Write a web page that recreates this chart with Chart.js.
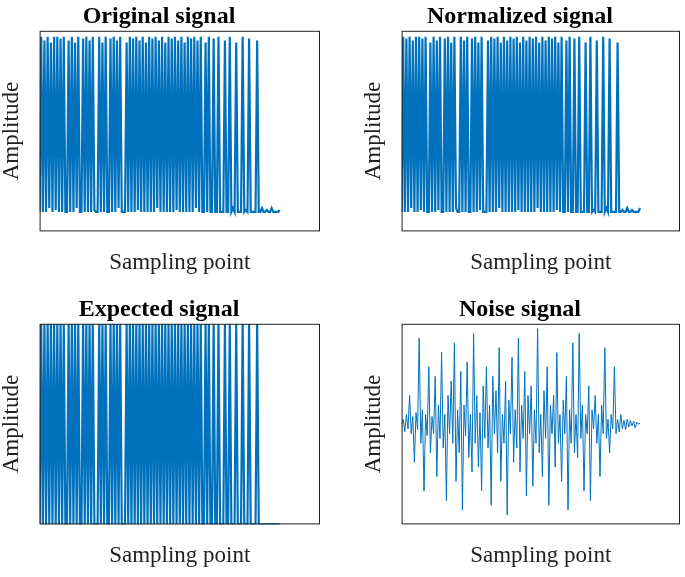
<!DOCTYPE html>
<html><head><meta charset="utf-8">
<script src="https://cdn.jsdelivr.net/npm/chart.js@4"></script>
<style>
body{margin:0;background:#fff;width:685px;height:577px;position:relative;overflow:hidden}
canvas{position:absolute}
</style></head><body>
<canvas id="c1" width="334" height="277" style="left:-6px;top:0"></canvas>
<canvas id="c2" width="334" height="277" style="left:356px;top:0"></canvas>
<canvas id="c3" width="334" height="277" style="left:-6px;top:293px"></canvas>
<canvas id="c4" width="334" height="277" style="left:356px;top:293px"></canvas>
<script>
const titles = ["Original signal","Normalized signal","Expected signal","Noise signal"];
const xLabel = "Sampling point";
const yLabel = "Amplitude";
const originalSignal = [0.1,1,0.1,0.98,0.1,1,0.12,0.97,0.1,1, 0.11,1,0.1,0.99,0.1,1,0.1,0.1,0.98,0.1, 1,0.1,0.97,0.12,1,0.1,0.1,0.99,0.1,1, 0.1,0.98,0.1,1,0.11,0.1,0.1,1,0.1,0.97, 0.1,1,0.1,0.1,0.99,0.1,1,0.1,0.98,0.12, 1,0.1,0.1,0.1,0.97,0.1,1,0.1,0.99,0.1, 1,0.11,0.98,0.1,1,0.1,0.97,0.1,1,0.1, 0.99,0.1,1,0.12,0.98,0.1,1,0.1,0.97,0.1, 1,0.1,0.99,0.1,1,0.11,0.98,0.1,1,0.1, 0.97,0.1,1,0.1,0.99,0.1,1,0.12,0.98,0.1, 1,0.1,0.1,0.97,0.1,1,0.1,0.1,0.99,0.1, 0.1,1,0.1,0.1,0.1,0.98,0.1,0.1,1,0.1, 0.12,0.1,0.97,0.1,0.1,0.1,1,0.1,0.11,0.1, 0.99,0.1,0.1,0.1,0.1,0.98,0.1,0.1,0.12,0.1, 0.1,0.11,0.1,0.1,0.12,0.1,0.1,0.1,0.1,0.11];
const normalizedSignal = [0.1,1,0.1,0.99,0.1,1,0.12,0.98,0.1,1, 0.1,1,0.11,0.99,0.1,1,0.1,0.1,0.97,0.1, 1,0.1,0.98,0.11,1,0.1,0.1,0.99,0.1,1, 0.1,0.97,0.1,1,0.12,0.1,0.1,1,0.1,0.98, 0.1,1,0.1,0.1,0.99,0.1,1,0.1,0.97,0.11, 1,0.1,0.1,0.1,0.98,0.1,1,0.1,0.99,0.1, 1,0.12,0.97,0.1,1,0.1,0.98,0.1,1,0.1, 0.99,0.1,1,0.11,0.97,0.1,1,0.1,0.98,0.1, 1,0.1,0.99,0.1,1,0.12,0.97,0.1,1,0.1, 0.98,0.1,1,0.1,0.99,0.1,1,0.11,0.97,0.1, 1,0.1,0.1,0.98,0.1,1,0.1,0.1,0.99,0.1, 0.1,1,0.1,0.1,0.1,0.97,0.1,0.1,1,0.1, 0.11,0.1,0.98,0.1,0.1,0.1,1,0.1,0.12,0.1, 0.99,0.1,0.1,0.1,0.1,0.97,0.1,0.1,0.11,0.1, 0.1,0.12,0.1,0.1,0.11,0.1,0.1,0.1,0.1,0.12];
const expectedSignal = [0,1,0,1,0,1,0,1,0,1, 0,1,0,1,0,1,0,0,1,0, 1,0,1,0,1,0,0,1,0,1, 0,1,0,1,0,0,0,1,0,1, 0,1,0,0,1,0,1,0,1,0, 1,0,0,0,1,0,1,0,1,0, 1,0,1,0,1,0,1,0,1,0, 1,0,1,0,1,0,1,0,1,0, 1,0,1,0,1,0,1,0,1,0, 1,0,1,0,1,0,1,0,1,0, 1,0,0,1,0,1,0,0,1,0, 0,1,0,0,0,1,0,0,1,0, 0,0,1,0,0,0,1,0,0,0, 1,0,0,0,0,1,0,0,0,0, 0,0,0,0,0,0,0,0,0,0];
const noiseSignal = [0,0.05,-0.08,0.1,-0.05,0.3,-0.1,0.08,-0.4,0.12, -0.06,0.9,-0.2,0.15,-0.7,0.1,-0.12,0.6,-0.3,0.08, -0.1,0.5,-0.55,0.2,-0.15,0.75,-0.25,0.1,-0.8,0.3, -0.1,0.45,-0.2,0.85,-0.6,0.15,-0.3,0.55,-0.9,0.2, -0.12,0.65,-0.35,0.1,-0.5,0.95,-0.2,0.3,-0.45,0.12, -0.7,0.4,-0.15,0.6,-0.25,0.2,-0.85,0.5,-0.1,0.35, -0.3,0.8,-0.6,0.1,-0.2,0.45,-0.95,0.25,-0.1,0.7, -0.4,0.15,-0.25,0.9,-0.5,0.2,-0.15,0.55,-0.75,0.3, -0.1,0.4,-0.65,0.15,-0.2,1,-0.3,0.1,-0.55,0.35, -0.15,0.6,-0.85,0.2,-0.1,0.3,-0.45,0.75,-0.2,0.1, -0.6,0.25,-0.1,0.5,-0.9,0.15,-0.2,0.85,-0.3,0.1, -0.35,0.95,-0.15,0.2,-0.7,0.1,-0.1,0.4,-0.8,0.15, -0.05,0.3,-0.2,0.1,-0.55,0.2,-0.1,0.8,-0.15,0.05, -0.3,0.1,-0.05,0.6,-0.1,0.05,-0.08,0.1,-0.05,0.04, -0.06,0.05,-0.03,0.04,-0.02,0.03,-0.04,0.02,0,0.01];
const series = [originalSignal, normalizedSignal, expectedSignal, noiseSignal];
const yRanges = [[0,1.03],[0,1.03],[0,1],[-1.05,1.05]];
const xMax = 174;

const frame = {id:'frame', afterDraw(c){const a=c.chartArea,x=c.ctx;x.save();x.strokeStyle='#222';x.lineWidth=1;x.strokeRect(a.left+0.5,a.top+0.5,a.right-a.left-1,a.bottom-a.top-1);x.restore();}};
const font = {family:"'Liberation Serif', serif", size:23};
series.forEach((s,i)=>{
  new Chart(document.getElementById('c'+(i+1)),{
    type:'line',
    data:{datasets:[{data:s.map((v,k)=>({x:k,y:v})),borderColor:'#0072BD',borderWidth:i===3?1:2.2,pointRadius:0,tension:0}]},
    options:{responsive:false,animation:false,
      layout:{padding:{left:4,right:i%2?10:8,top:0,bottom:0}},
      plugins:{legend:{display:false},tooltip:{enabled:false},
        title:{display:true,text:titles[i],color:'#000',font:{family:font.family,size:24,weight:'bold'},padding:{top:2,bottom:0}}},
      scales:{
        x:{type:'linear',min:0,max:xMax,grid:{display:false},border:{display:false},ticks:{display:false},
          title:{display:true,text:xLabel,color:'#222',font,padding:{top:10,bottom:0}}},
        y:{min:yRanges[i][0],max:yRanges[i][1],grid:{display:false},border:{display:false},ticks:{display:false},
          title:{display:true,text:yLabel,color:'#222',font,padding:{top:0,bottom:6}}}
      }},
    plugins:[frame]
  });
});
</script></body></html>
